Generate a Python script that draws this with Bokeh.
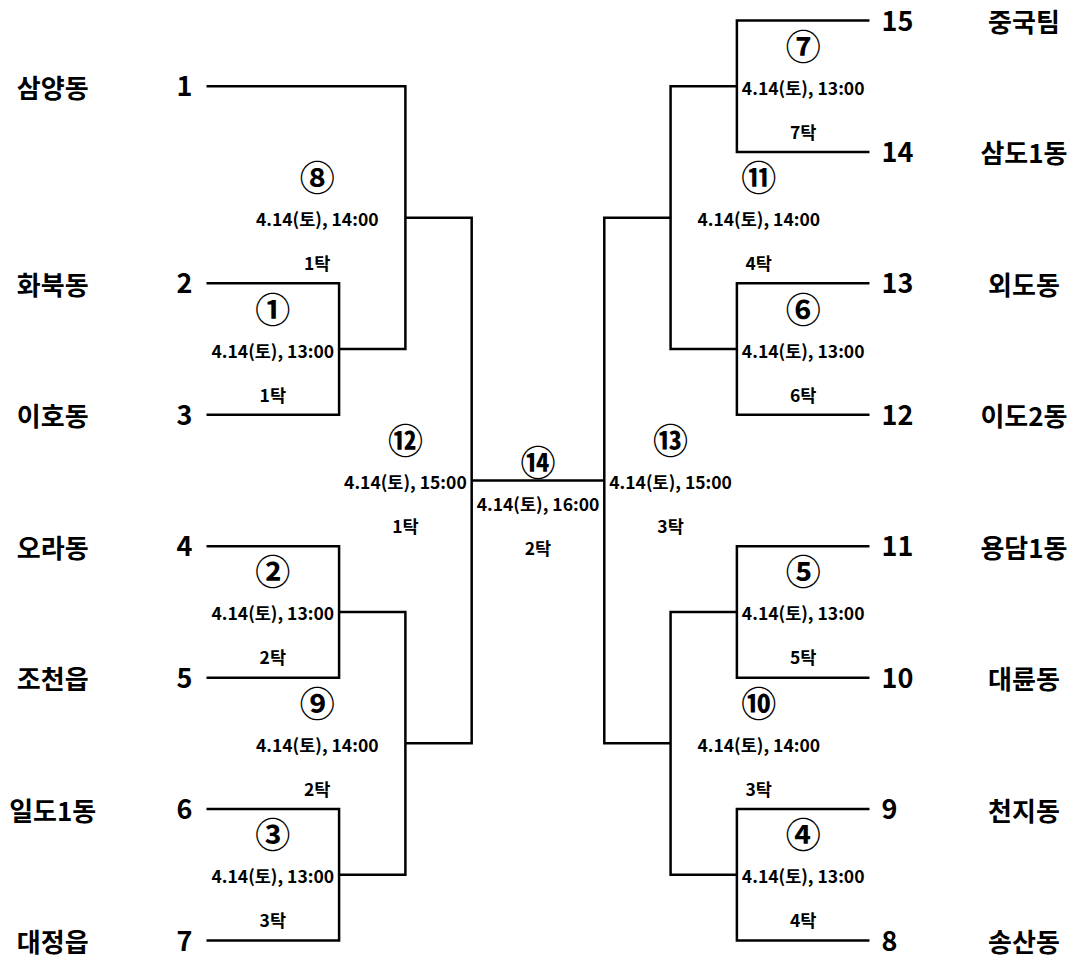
from bokeh.plotting import figure
from bokeh.models import Range1d, ColumnDataSource
from bokeh.core.properties import value
from bokeh.embed import file_html
from bokeh.resources import INLINE

# ---------------- data ----------------
left_names = ["삼양동", "화북동", "이호동", "오라동", "조천읍", "일도1동", "대정읍"]
left_seeds = [1, 2, 3, 4, 5, 6, 7]
left_slots = [0.5, 2, 3, 4, 5, 6, 7]

right_names = ["중국팀", "삼도1동", "외도동", "이도2동", "용담1동", "대륜동", "천지동", "송산동"]
right_seeds = [15, 14, 13, 12, 11, 10, 9, 8]
right_slots = [0, 1, 2, 3, 4, 5, 6, 7]

# matches: number, side (-1 left, +1 right), round, entrant A, entrant B
# entrants: ("s", seed) or ("m", match)
match_no = [1, 2, 3, 8, 9, 12, 7, 6, 5, 4, 11, 10, 13, 14]
match_side = [-1, -1, -1, -1, -1, -1, 1, 1, 1, 1, 1, 1, 1, 0]
match_round = [1, 1, 1, 2, 2, 3, 1, 1, 1, 1, 2, 2, 3, 4]
match_a = [("s", 2), ("s", 4), ("s", 6), ("s", 1), ("m", 2), ("m", 8),
           ("s", 15), ("s", 13), ("s", 11), ("s", 9), ("m", 7), ("m", 5), ("m", 11), ("m", 12)]
match_b = [("s", 3), ("s", 5), ("s", 7), ("m", 1), ("m", 3), ("m", 9),
           ("s", 14), ("s", 12), ("s", 10), ("s", 8), ("m", 6), ("m", 4), ("m", 10), ("m", 13)]
match_date = ["4.14(토), 13:00"] * 3 + ["4.14(토), 14:00"] * 2 + ["4.14(토), 15:00"] + \
             ["4.14(토), 13:00"] * 4 + ["4.14(토), 14:00"] * 2 + ["4.14(토), 15:00", "4.14(토), 16:00"]
match_table = ["1탁", "2탁", "3탁", "1탁", "2탁", "1탁", "7탁", "6탁", "5탁", "4탁", "4탁", "3탁", "3탁", "2탁"]
circled = {1: "①", 2: "②", 3: "③", 4: "④", 5: "⑤", 6: "⑥", 7: "⑦", 8: "⑧", 9: "⑨",
           10: "⑩", 11: "⑪", 12: "⑫", 13: "⑬", 14: "⑭"}

# ---------------- layout (bracket units) ----------------
SEED_X = 5          # where seed lines start (|x|)
ROUND_X = {1: 3, 2: 2, 3: 1, 4: 0}   # vertical connector of each round
LABEL_X = {1: 4, 2: 3.33, 3: 2, 4: 0}

seed_pos = {}
for s, y in zip(left_seeds, left_slots):
    seed_pos[s] = (-SEED_X, y)
for s, y in zip(right_seeds, right_slots):
    seed_pos[s] = (SEED_X, y)

match_pos = {}
paths_x, paths_y = [], []
lab = dict(x=[], y=[], circ=[], date=[], table=[], final=[])
for no, side, rnd, a, b, dt, tb in zip(match_no, match_side, match_round, match_a, match_b,
                                       match_date, match_table):
    def pos(e):
        return seed_pos[e[1]] if e[0] == "s" else match_pos[e[1]]
    (xa, ya), (xb, yb) = pos(a), pos(b)
    vx = side * ROUND_X[rnd]
    paths_x.append([xa, vx, vx, xb])
    paths_y.append([ya, ya, yb, yb])
    my = (ya + yb) / 2
    match_pos[no] = (vx, my)
    lab["x"].append(side * LABEL_X[rnd])
    lab["y"].append(my)
    lab["circ"].append(circled[no])
    lab["date"].append(dt)
    lab["table"].append(tb)
    lab["final"].append(rnd == 4)

FONT = value("Noto Sans CJK KR")

p = figure(width=1070, height=960, output_backend="svg", toolbar_location=None,
           x_range=Range1d(-8.107, 8.032), y_range=Range1d(7.1521, -0.1522),
           min_border=0)
p.axis.visible = False
p.grid.visible = False
p.outline_line_color = None
p.background_fill_color = "white"
p.border_fill_color = "white"

p.multi_line(paths_x, paths_y, line_color="black", line_width=2.5, line_join="miter")

# seed numbers and names
ls = ColumnDataSource(dict(x=[-SEED_X] * len(left_seeds), y=left_slots,
                           n=[str(s) for s in left_seeds], name=left_names,
                           nx=[-7.32] * len(left_seeds)))
rs = ColumnDataSource(dict(x=[SEED_X] * len(right_seeds), y=right_slots,
                           n=[str(s) for s in right_seeds], name=right_names,
                           nx=[7.33] * len(right_seeds)))
p.text("x", "y", text="n", source=ls, x_offset=-22, text_align="center", text_baseline="middle",
       text_font=FONT, text_font_style="bold", text_font_size="27px", text_color="black")
p.text("nx", "y", text="name", source=ls, text_align="center", text_baseline="middle",
       text_font=FONT, text_font_style="bold", text_font_size="26px", text_color="black")
p.text("x", "y", text="n", source=rs, x_offset=12, text_align="left", text_baseline="middle",
       text_font=FONT, text_font_style="bold", text_font_size="27px", text_color="black")
p.text("nx", "y", text="name", source=rs, text_align="center", text_baseline="middle",
       text_font=FONT, text_font_style="bold", text_font_size="26px", text_color="black")

# match labels
normal = [i for i, f in enumerate(lab["final"]) if not f]
final = [i for i, f in enumerate(lab["final"]) if f]
for idx, offs in ((normal, (-42, 1, 45)), (final, (-20, 23, 67))):
    src = ColumnDataSource({k: [v[i] for i in idx] for k, v in lab.items()})
    p.text("x", "y", text="circ", source=src, y_offset=offs[0], text_align="center",
           text_baseline="middle", text_font=FONT, text_font_size="35px", text_font_style="bold",
           text_color="black")
    p.text("x", "y", text="date", source=src, y_offset=offs[1], text_align="center",
           text_baseline="middle", text_font=FONT, text_font_size="17.5px", text_font_style="bold",
           text_color="black")
    p.text("x", "y", text="table", source=src, y_offset=offs[2], text_align="center",
           text_baseline="middle", text_font=FONT, text_font_size="17.5px", text_font_style="bold",
           text_color="black")

open("out.html", "w").write(file_html(p, INLINE))
